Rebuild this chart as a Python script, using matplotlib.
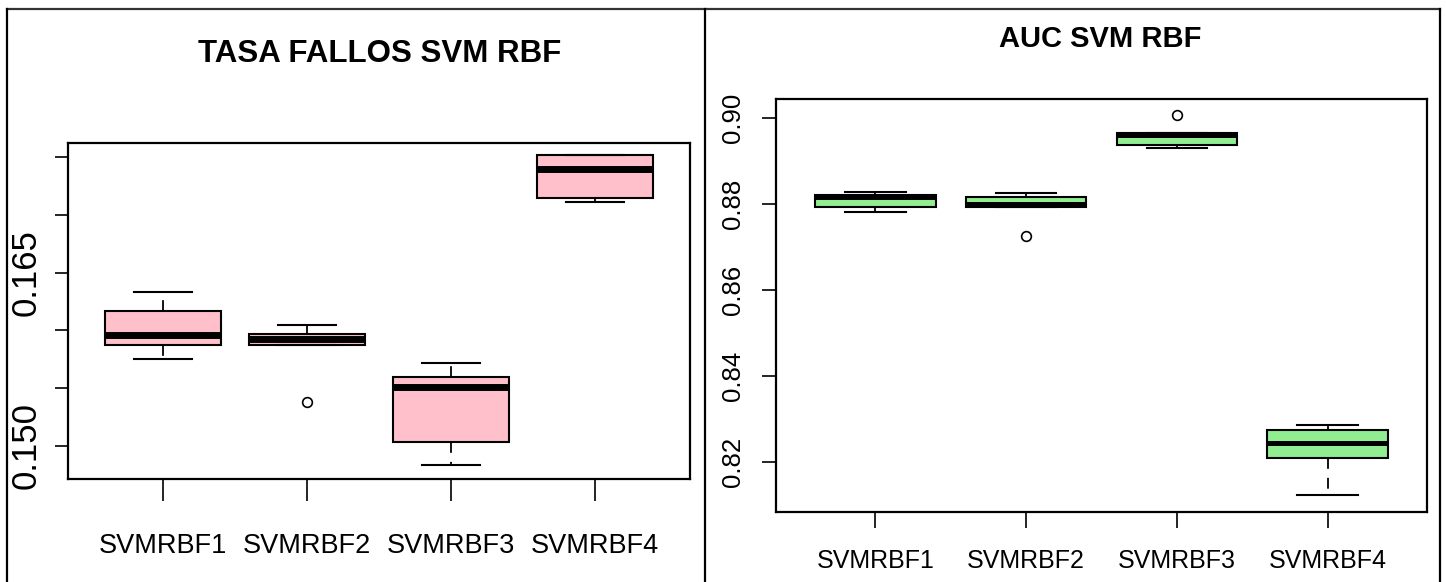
import matplotlib
matplotlib.use('Agg')
import matplotlib.pyplot as plt
from matplotlib import font_manager
from matplotlib.lines import Line2D

# --- data ---
labels = ['SVMRBF1', 'SVMRBF2', 'SVMRBF3', 'SVMRBF4']

# TASA FALLOS (error rate)
tasa_whislo = [0.15755, 0.15872, 0.14832, 0.17113]
tasa_q1 = [0.15874, 0.15872, 0.15035, 0.17148]
tasa_med = [0.15961, 0.15924, 0.15512, 0.17399]
tasa_q3 = [0.16169, 0.15970, 0.15596, 0.17523]
tasa_whishi = [0.16332, 0.16042, 0.15715, 0.17523]
tasa_fliers = [[], [0.15382], [], []]

# AUC
auc_whislo = [0.87807, 0.87916, 0.89296, 0.81219]
auc_q1 = [0.87916, 0.87916, 0.89358, 0.82079]
auc_med = [0.88149, 0.87993, 0.89605, 0.82428]
auc_q3 = [0.88202, 0.88163, 0.89651, 0.82737]
auc_whishi = [0.88279, 0.88242, 0.89651, 0.82853]
auc_fliers = [[], [0.87256], [0.90070], []]

tasa_ticks = [0.150, 0.155, 0.160, 0.165, 0.170, 0.175]
tasa_ticklabels = ['0.150', '', '', '0.165', '', '']
auc_ticks = [0.82, 0.84, 0.86, 0.88, 0.90]
auc_ticklabels = ['0.82', '0.84', '0.86', '0.88', '0.90']

W, H = 1446, 582

names = {f.name for f in font_manager.fontManager.ttflist}
has_narrow = 'Liberation Sans Narrow' in names
narrow = 'Liberation Sans Narrow' if has_narrow else 'Liberation Sans'
plt.rcParams['font.family'] = ['Liberation Sans', 'DejaVu Sans']


def make_stats(whislo, q1, med, q3, whishi, fliers):
    return [dict(whislo=a, q1=b, med=c, q3=d, whishi=e, fliers=f, label=l)
            for a, b, c, d, e, f, l in zip(whislo, q1, med, q3, whishi, fliers, labels)]


def draw_box(ax, stats, color, med_lw):
    ax.bxp(stats, positions=[1, 2, 3, 4], widths=0.8, patch_artist=True,
           boxprops=dict(facecolor=color, edgecolor='black', linewidth=1.5),
           medianprops=dict(color='black', linewidth=med_lw, solid_capstyle='butt'),
           whiskerprops=dict(color='black', linewidth=1.3, linestyle=(0, (6, 5))),
           capprops=dict(color='black', linewidth=1.5),
           flierprops=dict(marker='o', markerfacecolor='none', markeredgecolor='black',
                           markersize=7, markeredgewidth=1.2))
    ax.set_xlim(0.34, 4.66)
    for s in ax.spines.values():
        s.set_linewidth(1.6)


fig = plt.figure(figsize=(W / 100, H / 100), dpi=100)

# left panel
ax1 = fig.add_axes([68 / W, 1 - 479 / H, (690 - 68) / W, (479 - 143) / H])
draw_box(ax1, make_stats(tasa_whislo, tasa_q1, tasa_med, tasa_q3, tasa_whishi, tasa_fliers),
         '#FFC0CB', 5)
ax1.set_ylim(0.1471, 0.17625)
ax1.set_yticks(tasa_ticks)
ax1.set_yticklabels(tasa_ticklabels, rotation=90, va='center', fontsize=25)
ax1.set_xticks([1, 2, 3, 4])
ax1.set_xticklabels(labels, family=[narrow, 'DejaVu Sans'],
                    fontsize=24 if has_narrow else 19.5)
ax1.tick_params(axis='x', length=16, width=1.2, pad=23)
ax1.tick_params(axis='y', length=9.5, width=1.2, pad=9)

# right panel
ax2 = fig.add_axes([776 / W, 1 - 512.3 / H, (1427 - 776) / W, (512.3 - 99.3) / H])
draw_box(ax2, make_stats(auc_whislo, auc_q1, auc_med, auc_q3, auc_whishi, auc_fliers),
         '#90EE90', 3.6)
ax2.set_ylim(0.8082, 0.9043)
ax2.set_yticks(auc_ticks)
ax2.set_yticklabels(auc_ticklabels, rotation=90, va='center', fontsize=18.5)
ax2.set_xticks([1, 2, 3, 4])
ax2.set_xticklabels(labels, fontsize=18)
ax2.tick_params(axis='x', length=11.5, width=1.2, pad=15)
ax2.tick_params(axis='y', length=10, width=1.2, pad=12)

# titles
fig.text(380 / W, 1 - 62 / H, 'TASA FALLOS SVM RBF', ha='center', va='baseline',
         fontweight='bold', family=[narrow, 'DejaVu Sans'],
         fontsize=26.5 if has_narrow else 22.5)
fig.text(1100 / W, 1 - 47 / H, 'AUC SVM RBF', ha='center', va='baseline',
         fontweight='bold', fontsize=21)

# outer frame of the pasted figure
def fline(x0, y0, x1, y1, color='black', lw=1.6):
    fig.add_artist(Line2D([x0 / W, x1 / W], [1 - y0 / H, 1 - y1 / H],
                          transform=fig.transFigure, color=color, linewidth=lw))

fline(7, 9, 1440, 9, color='#333333')
fline(7, 9, 7, H)
fline(705, 9, 705, H)
fline(1440, 9, 1440, H)

fig.savefig('out.png', dpi=100)
